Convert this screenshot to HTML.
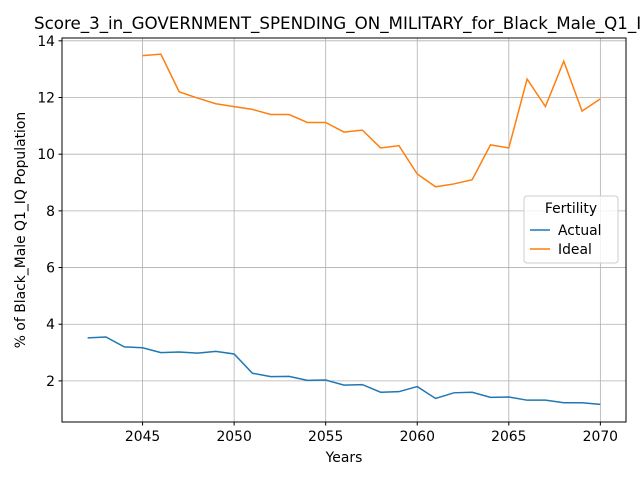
<!DOCTYPE html>
<html><head><meta charset="utf-8"><style>
body{margin:0;background:#fff;}
svg text{font-family:"DejaVu Sans","Liberation Sans",sans-serif;fill:#000;}
</style></head><body>
<svg id="chart" width="640" height="480" xmlns="http://www.w3.org/2000/svg">
<rect width="640" height="480" fill="#fff"/>
<g id="grid"></g>
<g id="series"></g>
<rect x="62" y="38" width="564" height="384" fill="none" stroke="#000" stroke-width="1"/>
<g id="ticks"></g>
<text x="34" y="29" font-size="16.7">Score_3_in_GOVERNMENT_SPENDING_ON_MILITARY_for_Black_Male_Q1_IQ</text>
<text x="344" y="462" font-size="13.9" text-anchor="middle">Years</text>
<text transform="translate(25,230) rotate(-90)" font-size="13.9" text-anchor="middle">% of Black_Male Q1_IQ Population</text>
<g>
<rect x="524" y="196" width="94" height="67" rx="3" fill="#fff" fill-opacity="0.8" stroke="#ccc"/>
<text x="571" y="213" font-size="13.9" text-anchor="middle">Fertility</text>
<line x1="530" y1="230" x2="550" y2="230" stroke="#1f77b4" stroke-width="1.5"/>
<text x="558" y="235" font-size="13.9">Actual</text>
<line x1="530" y1="249" x2="550" y2="249" stroke="#ff7f0e" stroke-width="1.5"/>
<text x="558" y="254" font-size="13.9">Ideal</text>
</g>
</svg>
<script>
const actualYears=[2042,2043,2044,2045,2046,2047,2048,2049,2050,2051,2052,2053,2054,2055,2056,2057,2058,2059,2060,2061,2062,2063,2064,2065,2066,2067,2068,2069,2070];
const actualValues=[3.52,3.55,3.2,3.17,3.0,3.02,2.98,3.04,2.95,2.27,2.15,2.16,2.02,2.03,1.85,1.87,1.6,1.62,1.8,1.38,1.58,1.6,1.42,1.43,1.32,1.32,1.23,1.23,1.17];
const idealYears=[2045,2046,2047,2048,2049,2050,2051,2052,2053,2054,2055,2056,2057,2058,2059,2060,2061,2062,2063,2064,2065,2066,2067,2068,2069,2070];
const idealValues=[13.48,13.53,12.2,11.98,11.78,11.68,11.58,11.4,11.4,11.12,11.12,10.78,10.85,10.22,10.3,9.3,8.85,8.95,9.1,10.33,10.22,12.65,11.68,13.28,11.52,11.95];
const xTicks=[2045,2050,2055,2060,2065,2070];
const yTicks=[2,4,6,8,10,12,14];
const NS="http://www.w3.org/2000/svg";
const L=62,R=626,T=38,B=422,xmin=2040.6,xmax=2071.4,ymin=0.55,ymax=14.1;
function sx(v){return L+(v-xmin)/(xmax-xmin)*(R-L);}
function sy(v){return B-(v-ymin)/(ymax-ymin)*(B-T);}
function mk(tag,attrs,parent){const e=document.createElementNS(NS,tag);for(const k in attrs)e.setAttribute(k,attrs[k]);parent.appendChild(e);return e;}
const grid=document.getElementById('grid'),ticks=document.getElementById('ticks'),series=document.getElementById('series');
xTicks.forEach(t=>{const x=sx(t);
const g=mk('line',{x1:x,x2:x,y1:T,y2:B,stroke:'#b0b0b0','stroke-width':0.8},grid);


mk('line',{x1:x,x2:x,y1:B,y2:B+3.5,stroke:'#000'},ticks);
const tx=mk('text',{x:x,y:B+19,'font-size':13.9,'text-anchor':'middle'},ticks);tx.textContent=t;

});
yTicks.forEach(t=>{const y=sy(t);
const g=mk('line',{x1:L,x2:R,y1:y,y2:y,stroke:'#b0b0b0','stroke-width':0.8},grid);


mk('line',{x1:L-3.5,x2:L,y1:y,y2:y,stroke:'#000'},ticks);
const tx=mk('text',{x:L-7,y:y+5,'font-size':13.9,'text-anchor':'end'},ticks);tx.textContent=t;

});
function line(xs,ys,color,name){const p=mk('polyline',{points:xs.map((x,i)=>sx(x)+','+sy(ys[i])).join(' '),fill:'none',stroke:color,'stroke-width':1.5},series);

}
line(actualYears,actualValues,'#1f77b4','actual-line');
line(idealYears,idealValues,'#ff7f0e','ideal-line');
</script>
</body></html>
